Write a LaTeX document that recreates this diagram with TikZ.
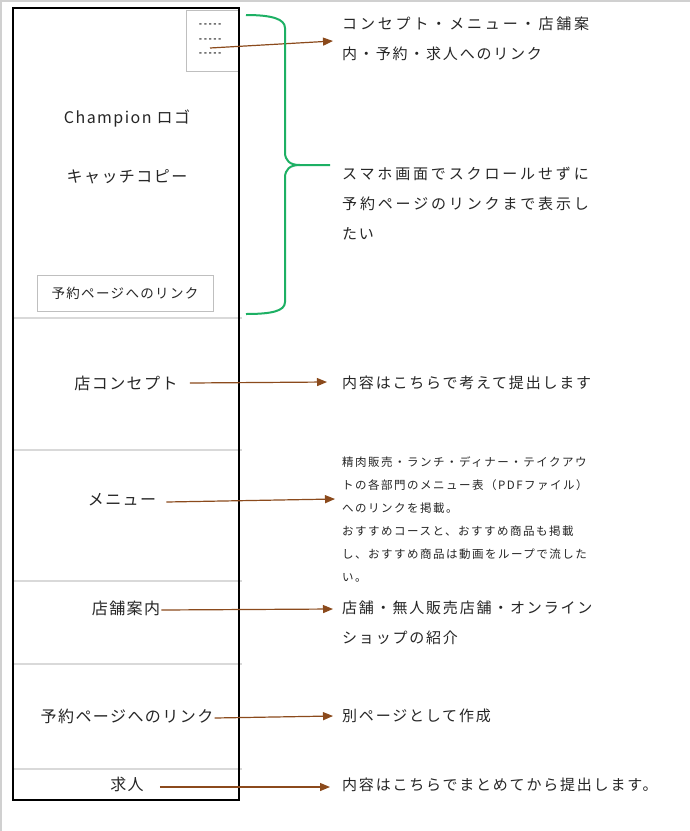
\documentclass[tikz,border=0pt]{standalone}
\usepackage{fontspec}
\usetikzlibrary{arrows.meta}
\newfontfamily\jpL[LetterSpace=9]{Noto Sans CJK JP}
\newfontfamily\jpR[LetterSpace=12]{Noto Sans CJK JP}
\newfontfamily\jpW[LetterSpace=19]{Noto Sans CJK JP}
\newfontfamily\jpS[LetterSpace=13]{Noto Sans CJK JP}
\newfontfamily\jpB[LetterSpace=10]{Noto Sans CJK JP}
\newfontfamily\dashfont{Liberation Mono}
\definecolor{txtc}{HTML}{262626}
\definecolor{arrc}{HTML}{8B4A1C}
\definecolor{bracec}{HTML}{1DB064}
\definecolor{divc}{HTML}{D9D9D9}
\definecolor{boxc}{HTML}{BFBFBF}
\definecolor{edgec}{HTML}{D0D0D0}
\tikzset{
  leftlbl/.style={inner sep=0pt, text=txtc, font=\jpL\fontsize{16}{30}\selectfont},
  righttxt/.style={inner sep=0pt, text=txtc, align=left, font=\jpR\fontsize{15}{30}\selectfont},
  smalltxt/.style={inner sep=0pt, text=txtc, align=left, font=\jpS\fontsize{11.5}{23}\selectfont},
  conn/.style={draw=arrc, line width=1.2pt, -{Triangle[length=10pt,width=8pt]}},
  divider/.style={draw=divc, line width=2pt},
}
\begin{document}
\begin{tikzpicture}[x=1pt,y=-1pt]
\useasboundingbox (0,0) rectangle (690,831);
\fill[white] (0,0) rectangle (690,831);
% image edge lines
\draw[edgec, line width=1.5pt] (1,831) -- (1,1) -- (690,1);
% dividers
\foreach \yy in {318,450,581,664,769} \draw[divider] (13,\yy) -- (242,\yy);
% nav box
\node[draw=boxc, line width=1pt, minimum width=52pt, minimum height=61pt, inner sep=0pt, anchor=north west] (nav) at (186,10) {};
\node[inner sep=0pt, align=left, text=black, font=\dashfont\bfseries\fontsize{8}{14.5}\selectfont, anchor=north west] (dashes) at (198,24) {-----\\-----\\-----};
% phone frame
\draw[black, line width=2pt] (13,8) rectangle (239,800);
% left labels
\node[leftlbl] (logo) at (127,118) {Champion ロゴ};
\node[leftlbl] (catch) at (127,177) {キャッチコピー};
\node[draw=boxc, line width=1pt, minimum width=176pt, minimum height=36pt, inner sep=0pt, text=txtc, font=\jpB\fontsize{13.5}{20}\selectfont] (btn) at (125,293) {予約ページへのリンク};
\node[leftlbl] (concept) at (126,383) {店コンセプト};
\node[leftlbl] (menu) at (122,500) {メニュー};
\node[leftlbl] (store) at (126,608) {店舗案内};
\node[leftlbl] (reserve) at (127,716) {予約ページへのリンク};
\node[leftlbl] (recruit) at (127,784) {求人};
% right texts
\node[righttxt, anchor=north west] (tnav) at (342,16.5) {{\jpW コンセプト・メニュー・店舗案}\\内・予約・求人へのリンク};
\node[righttxt, anchor=north west] (tbrace) at (342,166.5) {{\jpW スマホ画面でスクロールせずに}\\{\jpW 予約ページのリンクまで表示し}\\たい};
\node[righttxt, anchor=west] (tconcept) at (342,383) {内容はこちらで考えて提出します};
\node[smalltxt, anchor=north west] (tmenu) at (342,456.5) {精肉販売・ランチ・ディナー・テイクアウ\\トの各部門のメニュー表（PDFファイル）\\へのリンクを掲載。\\おすすめコースと、おすすめ商品も掲載\\し、おすすめ商品は動画をループで流した\\い。};
\node[righttxt, anchor=north west] (tstore) at (342,600.5) {店舗・無人販売店舗・オンライン\\ショップの紹介};
\node[righttxt, anchor=west] (treserve) at (342,716) {別ページとして作成};
\node[righttxt, anchor=west] (trecruit) at (342,785) {内容はこちらでまとめてから提出します。};
% arrow end points
\coordinate (enav) at (333,41);
\coordinate (econcept) at (327,382);
\coordinate (emenu) at (335,499);
\coordinate (estore) at (333,609);
\coordinate (ereserve) at (333,716);
\coordinate (erecruit) at (330,787);
\coordinate (snav) at (210,48);
% connectors
\draw[conn] (snav) -- (enav);
\draw[conn] ([xshift=12pt]concept.east) -- (econcept);
\draw[conn] ([xshift=10pt,yshift=-2pt]menu.east) -- (emenu);
\draw[conn] ([xshift=1pt,yshift=-2pt]store.east) -- (estore);
\draw[conn] ([xshift=1pt,yshift=-2pt]reserve.east) -- (ereserve);
\draw[conn] ([xshift=16pt,yshift=-3pt]recruit.east) -- (erecruit);
% brace
\draw[bracec, line width=2pt] (246,15) .. controls (272,15) and (285,19) .. (285,28) -- (285,152)
  .. controls (285,161) and (290,165) .. (300,165) -- (330,165);
\draw[bracec, line width=2pt] (300,165) .. controls (290,165) and (285,169) .. (285,178) -- (285,302)
  .. controls (285,311) and (272,314) .. (246,314);
\end{tikzpicture}
\end{document}
